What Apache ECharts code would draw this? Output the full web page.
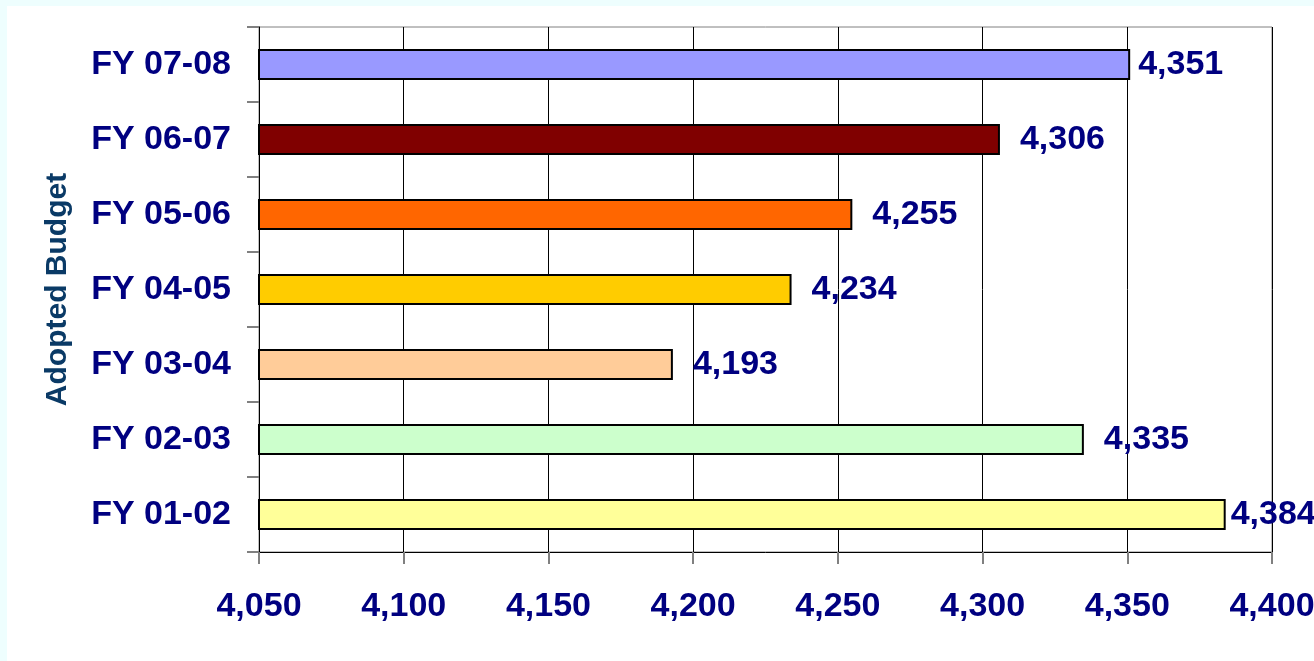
<!DOCTYPE html>
<html lang="en">
  <head>
    <meta charset="utf-8">
    <script src="https://cdn.jsdelivr.net/npm/echarts@6/dist/echarts.min.js"></script>
    <style>
      html, body { margin: 0; padding: 0; background: #eefefe; }
      #chart { position: absolute; left: 7px; top: 6px; width: 1307px; height: 655px; background: #ffffff; }
    </style>
  </head>
  <body>
    <div id="chart"></div>
    <script>
      // Anni fiscali (dal basso verso l'alto)
      const years = ['FY 01-02', 'FY 02-03', 'FY 03-04', 'FY 04-05', 'FY 05-06', 'FY 06-07', 'FY 07-08'];
      const budget = [4384, 4335, 4193, 4234, 4255, 4306, 4351];
      const barColors = ['#ffff99', '#ccffcc', '#ffcc99', '#ffcc00', '#ff6600', '#800000', '#9999ff'];
      const xTicks = [4050, 4100, 4150, 4200, 4250, 4300, 4350, 4400];

      const navy = '#000080';
      const font = 'Liberation Sans, Arial, sans-serif';
      const fmt = v => Number(v).toLocaleString('en-US');

      var myChart = echarts.init(document.getElementById('chart'));

      var option = {
        animation: false,
        grid: {
          left: 252, right: 42, top: 21, bottom: 109,
          outerBoundsMode: 'none',
          show: true, borderColor: '#808080', borderWidth: 1, backgroundColor: '#ffffff'
        },
        xAxis: {
          type: 'value',
          min: xTicks[0],
          max: xTicks[xTicks.length - 1],
          interval: 50,
          axisLine: { show: true, lineStyle: { color: '#000000', width: 1 } },
          axisTick: { show: true, length: 12, lineStyle: { color: '#808080', width: 2 } },
          splitLine: { show: true, lineStyle: { color: '#000000', width: 1 } },
          axisLabel: {
            margin: 38,
            color: navy,
            fontFamily: font,
            fontWeight: 'bold',
            fontSize: 34,
            formatter: fmt
          }
        },
        yAxis: {
          type: 'category',
          data: years,
          name: 'Adopted Budget',
          nameLocation: 'middle',
          nameRotate: 90,
          nameGap: 186,
          nameTextStyle: {
            color: '#0a3a66',
            fontFamily: font,
            fontWeight: 'bold',
            fontSize: 30
          },
          axisLine: { show: true, lineStyle: { color: '#000000', width: 1 } },
          axisTick: { show: true, length: 12, lineStyle: { color: '#808080', width: 2 } },
          axisLabel: {
            margin: 28,
            color: navy,
            fontFamily: font,
            fontWeight: 'bold',
            fontSize: 34
          }
        },
        series: [{
          type: 'bar',
          barWidth: 31,
          data: budget.map((v, i) => ({
            value: v,
            itemStyle: { color: barColors[i] },
            // Excel sposta l'etichetta in modo diverso per la prima e l'ultima barra
            label: { distance: i === 0 ? 5 : (i === budget.length - 1 ? 8 : 20) }
          })),
          itemStyle: { borderColor: '#000000', borderWidth: 2 },
          label: {
            show: true,
            position: 'right',
            color: navy,
            fontFamily: font,
            fontWeight: 'bold',
            fontSize: 34,
            formatter: p => fmt(p.value)
          }
        }]
      };
      myChart.setOption(option);
    </script>
  </body>
</html>
